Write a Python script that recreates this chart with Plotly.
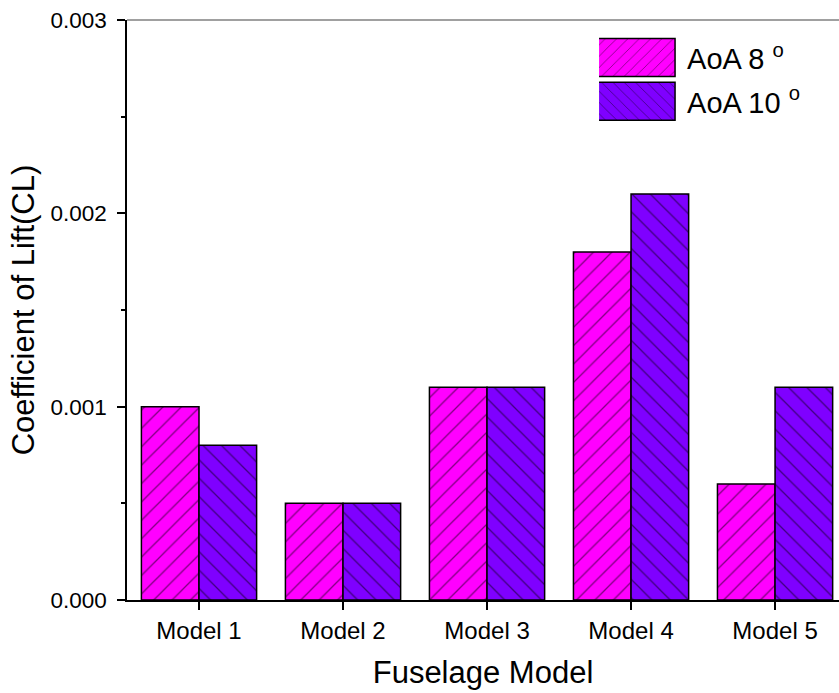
import plotly.graph_objects as go

categories = ["Model 1", "Model 2", "Model 3", "Model 4", "Model 5"]
aoa8 = [0.0010, 0.0005, 0.0011, 0.0018, 0.0006]
aoa10 = [0.0008, 0.0005, 0.0011, 0.0021, 0.0011]
series_names = ["AoA 8 <sup>o</sup>", "AoA 10 <sup>o</sup>"]
y_ticks = [0.000, 0.001, 0.002, 0.003]

FONT = "Liberation Sans, Arial, sans-serif"

fig = go.Figure()
fig.add_trace(go.Bar(
    x=categories, y=aoa8, name=series_names[0], legendgroup="g8",
    marker=dict(color="#FF00FF", line=dict(color="black", width=1.5),
                pattern=dict(shape="/", fgcolor="black", bgcolor="#FF00FF", size=13, solidity=0.1)),
))
fig.add_trace(go.Bar(
    x=categories, y=aoa10, name=series_names[1], legendgroup="g10",
    marker=dict(color="#7F00FF", line=dict(color="black", width=1.5),
                pattern=dict(shape="\\", fgcolor="black", bgcolor="#7F00FF", size=13, solidity=0.1)),
))

xr = [-0.5, 4.444]
fig.update_layout(
    width=839, height=693,
    margin=dict(l=127, r=0, t=20, b=93),
    paper_bgcolor="white", plot_bgcolor="white",
    font=dict(family=FONT, color="black", size=24),
    barmode="group", bargap=0.2, bargroupgap=0,
    showlegend=True,
    legend=dict(x=0.663, y=0.979, xanchor="left", yanchor="top",
                font=dict(size=29, family=FONT), itemwidth=78,
                bgcolor="rgba(0,0,0,0)", tracegroupgap=3),
    xaxis=dict(type="category", categoryarray=categories, range=xr,
               showline=True, linecolor="black", linewidth=1.5,
               ticks="outside", ticklen=8, tickwidth=1.5, tickcolor="black",
               tickfont=dict(size=24), showgrid=False, zeroline=False,
               title=dict(text="Fuselage Model", font=dict(size=31), standoff=19)),
    xaxis2=dict(type="category", categoryarray=categories, range=xr,
                overlaying="x", anchor="y", side="bottom",
                tickson="boundaries", ticks="outside", ticklen=4, tickwidth=1.5,
                tickcolor="black", showticklabels=False, showline=False, showgrid=False),
    yaxis=dict(range=[0, 0.003], tickvals=y_ticks, tickformat=".3f",
               showline=True, linecolor="black", linewidth=1.5,
               ticks="outside", ticklen=8, tickwidth=1.5, tickcolor="black",
               ticklabelstandoff=6,
               minor=dict(dtick=0.0005, ticks="outside", ticklen=4, tickwidth=1.5, tickcolor="black"),
               tickfont=dict(size=22.5), showgrid=False, zeroline=False,
               title=dict(text="Coefficient of Lift(CL)", font=dict(size=31), standoff=7)),
    shapes=[dict(type="line", xref="paper", yref="paper", x0=0, x1=1, y0=1, y1=1,
                 line=dict(color="#808080", width=1.5))],
)

post = """
document.body.style.margin = '0';
document.body.style.overflow = 'hidden';
var gd = document.getElementById('{plot_id}');
function fixLegend(){
  var ps = gd.querySelectorAll('.legend g.legendpoints path');
  for (var i = 0; i < ps.length; i++) {
    ps[i].setAttribute('d', 'M32,19H-46V-19H32Z');
  }
}
fixLegend();
gd.on('plotly_afterplot', fixLegend);
var n = 0;
var iv = setInterval(function(){ fixLegend(); n++; if (n > 40) clearInterval(iv); }, 50);
"""
fig.write_html("out.html", post_script=post, config={"displayModeBar": False})
